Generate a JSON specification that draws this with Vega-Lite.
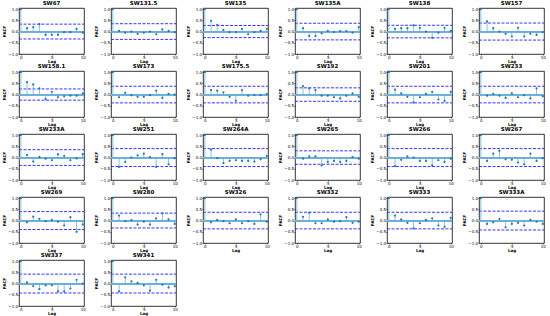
{
  "$schema": "https://vega.github.io/schema/vega-lite/v6.json",
  "padding": {"left": 2, "top": 0, "right": 2, "bottom": 0},
  "background": "white",
  "bounds": "flush",
  "datasets": {
    "pacf": [
      {"s":"SW67","lag":0,"v":1},{"s":"SW67","lag":1,"v":0.15},{"s":"SW67","lag":2,"v":0.2},{"s":"SW67","lag":3,"v":0.33},{"s":"SW67","lag":4,"v":-0.15},{"s":"SW67","lag":5,"v":-0.15},{"s":"SW67","lag":6,"v":-0.15},{"s":"SW67","lag":7,"v":-0.03},{"s":"SW67","lag":8,"v":-0.03},{"s":"SW67","lag":9,"v":0.12},{"s":"SW67","lag":10,"v":-0.05},
      {"s":"SW131.5","lag":0,"v":1},{"s":"SW131.5","lag":1,"v":0.03},{"s":"SW131.5","lag":2,"v":-0.05},{"s":"SW131.5","lag":3,"v":0.0},{"s":"SW131.5","lag":4,"v":-0.1},{"s":"SW131.5","lag":5,"v":-0.05},{"s":"SW131.5","lag":6,"v":0.0},{"s":"SW131.5","lag":7,"v":-0.12},{"s":"SW131.5","lag":8,"v":0.1},{"s":"SW131.5","lag":9,"v":0.03},{"s":"SW131.5","lag":10,"v":-0.03},
      {"s":"SW135","lag":0,"v":1},{"s":"SW135","lag":1,"v":0.48},{"s":"SW135","lag":2,"v":0.3},{"s":"SW135","lag":3,"v":0.07},{"s":"SW135","lag":4,"v":-0.03},{"s":"SW135","lag":5,"v":-0.02},{"s":"SW135","lag":6,"v":0.12},{"s":"SW135","lag":7,"v":-0.12},{"s":"SW135","lag":8,"v":-0.03},{"s":"SW135","lag":9,"v":0.03},{"s":"SW135","lag":10,"v":0.12},
      {"s":"SW135A","lag":0,"v":1},{"s":"SW135A","lag":1,"v":0.15},{"s":"SW135A","lag":2,"v":-0.2},{"s":"SW135A","lag":3,"v":-0.2},{"s":"SW135A","lag":4,"v":-0.08},{"s":"SW135A","lag":5,"v":0.03},{"s":"SW135A","lag":6,"v":-0.02},{"s":"SW135A","lag":7,"v":0.02},{"s":"SW135A","lag":8,"v":0.02},{"s":"SW135A","lag":9,"v":-0.05},{"s":"SW135A","lag":10,"v":0.2},
      {"s":"SW138","lag":0,"v":1},{"s":"SW138","lag":1,"v":0.12},{"s":"SW138","lag":2,"v":0.15},{"s":"SW138","lag":3,"v":0.15},{"s":"SW138","lag":4,"v":0.28},{"s":"SW138","lag":5,"v":0.17},{"s":"SW138","lag":6,"v":0.0},{"s":"SW138","lag":7,"v":-0.28},{"s":"SW138","lag":8,"v":-0.05},{"s":"SW138","lag":9,"v":0.17},{"s":"SW138","lag":10,"v":0.03},
      {"s":"SW157","lag":0,"v":1},{"s":"SW157","lag":1,"v":0.45},{"s":"SW157","lag":2,"v":0.15},{"s":"SW157","lag":3,"v":0.0},{"s":"SW157","lag":4,"v":-0.1},{"s":"SW157","lag":5,"v":-0.22},{"s":"SW157","lag":6,"v":0.17},{"s":"SW157","lag":7,"v":-0.22},{"s":"SW157","lag":8,"v":-0.1},{"s":"SW157","lag":9,"v":-0.15},{"s":"SW157","lag":10,"v":-0.02},
      {"s":"SW158.1","lag":0,"v":1},{"s":"SW158.1","lag":1,"v":0.55},{"s":"SW158.1","lag":2,"v":0.45},{"s":"SW158.1","lag":3,"v":0.28},{"s":"SW158.1","lag":4,"v":-0.2},{"s":"SW158.1","lag":5,"v":0.12},{"s":"SW158.1","lag":6,"v":-0.12},{"s":"SW158.1","lag":7,"v":-0.08},{"s":"SW158.1","lag":8,"v":-0.05},{"s":"SW158.1","lag":9,"v":-0.05},{"s":"SW158.1","lag":10,"v":0.05},
      {"s":"SW173","lag":0,"v":1},{"s":"SW173","lag":1,"v":-0.12},{"s":"SW173","lag":2,"v":0.08},{"s":"SW173","lag":3,"v":-0.03},{"s":"SW173","lag":4,"v":-0.1},{"s":"SW173","lag":5,"v":-0.1},{"s":"SW173","lag":6,"v":-0.03},{"s":"SW173","lag":7,"v":0.18},{"s":"SW173","lag":8,"v":-0.15},{"s":"SW173","lag":9,"v":0.03},{"s":"SW173","lag":10,"v":0.0},
      {"s":"SW175.5","lag":0,"v":1},{"s":"SW175.5","lag":1,"v":0.2},{"s":"SW175.5","lag":2,"v":0.18},{"s":"SW175.5","lag":3,"v":0.1},{"s":"SW175.5","lag":4,"v":-0.1},{"s":"SW175.5","lag":5,"v":-0.28},{"s":"SW175.5","lag":6,"v":0.2},{"s":"SW175.5","lag":7,"v":-0.05},{"s":"SW175.5","lag":8,"v":-0.02},{"s":"SW175.5","lag":9,"v":-0.02},{"s":"SW175.5","lag":10,"v":0.02},
      {"s":"SW192","lag":0,"v":1},{"s":"SW192","lag":1,"v":0.38},{"s":"SW192","lag":2,"v":0.28},{"s":"SW192","lag":3,"v":0.2},{"s":"SW192","lag":4,"v":-0.05},{"s":"SW192","lag":5,"v":-0.05},{"s":"SW192","lag":6,"v":-0.12},{"s":"SW192","lag":7,"v":-0.17},{"s":"SW192","lag":8,"v":-0.05},{"s":"SW192","lag":9,"v":0.05},{"s":"SW192","lag":10,"v":-0.1},
      {"s":"SW201","lag":0,"v":1},{"s":"SW201","lag":1,"v":0.22},{"s":"SW201","lag":2,"v":0.05},{"s":"SW201","lag":3,"v":-0.1},{"s":"SW201","lag":4,"v":-0.35},{"s":"SW201","lag":5,"v":-0.12},{"s":"SW201","lag":6,"v":0.03},{"s":"SW201","lag":7,"v":0.12},{"s":"SW201","lag":8,"v":-0.22},{"s":"SW201","lag":9,"v":-0.28},{"s":"SW201","lag":10,"v":0.12},
      {"s":"SW233","lag":0,"v":1},{"s":"SW233","lag":1,"v":-0.05},{"s":"SW233","lag":2,"v":0.03},{"s":"SW233","lag":3,"v":-0.05},{"s":"SW233","lag":4,"v":-0.15},{"s":"SW233","lag":5,"v":0.05},{"s":"SW233","lag":6,"v":-0.12},{"s":"SW233","lag":7,"v":-0.03},{"s":"SW233","lag":8,"v":-0.17},{"s":"SW233","lag":9,"v":0.28},{"s":"SW233","lag":10,"v":-0.08},
      {"s":"SW233A","lag":0,"v":1},{"s":"SW233A","lag":1,"v":0.12},{"s":"SW233A","lag":2,"v":-0.18},{"s":"SW233A","lag":3,"v":0.03},{"s":"SW233A","lag":4,"v":-0.05},{"s":"SW233A","lag":5,"v":-0.12},{"s":"SW233A","lag":6,"v":0.15},{"s":"SW233A","lag":7,"v":0.08},{"s":"SW233A","lag":8,"v":-0.12},{"s":"SW233A","lag":9,"v":-0.04},{"s":"SW233A","lag":10,"v":0.15},
      {"s":"SW251","lag":0,"v":1},{"s":"SW251","lag":1,"v":-0.42},{"s":"SW251","lag":2,"v":-0.2},{"s":"SW251","lag":3,"v":0.0},{"s":"SW251","lag":4,"v":0.1},{"s":"SW251","lag":5,"v":0.18},{"s":"SW251","lag":6,"v":0.02},{"s":"SW251","lag":7,"v":-0.42},{"s":"SW251","lag":8,"v":0.15},{"s":"SW251","lag":9,"v":-0.3},{"s":"SW251","lag":10,"v":-0.03},
      {"s":"SW264A","lag":0,"v":1},{"s":"SW264A","lag":1,"v":0.35},{"s":"SW264A","lag":2,"v":-0.03},{"s":"SW264A","lag":3,"v":-0.25},{"s":"SW264A","lag":4,"v":-0.15},{"s":"SW264A","lag":5,"v":-0.12},{"s":"SW264A","lag":6,"v":-0.15},{"s":"SW264A","lag":7,"v":-0.15},{"s":"SW264A","lag":8,"v":-0.18},{"s":"SW264A","lag":9,"v":-0.08},{"s":"SW264A","lag":10,"v":0.08},
      {"s":"SW265","lag":0,"v":1},{"s":"SW265","lag":1,"v":-0.05},{"s":"SW265","lag":2,"v":0.05},{"s":"SW265","lag":3,"v":0.05},{"s":"SW265","lag":4,"v":-0.35},{"s":"SW265","lag":5,"v":-0.2},{"s":"SW265","lag":6,"v":-0.15},{"s":"SW265","lag":7,"v":-0.2},{"s":"SW265","lag":8,"v":-0.15},{"s":"SW265","lag":9,"v":0.02},{"s":"SW265","lag":10,"v":-0.05},
      {"s":"SW266","lag":0,"v":1},{"s":"SW266","lag":1,"v":-0.38},{"s":"SW266","lag":2,"v":-0.1},{"s":"SW266","lag":3,"v":0.05},{"s":"SW266","lag":4,"v":0.0},{"s":"SW266","lag":5,"v":-0.15},{"s":"SW266","lag":6,"v":-0.15},{"s":"SW266","lag":7,"v":-0.35},{"s":"SW266","lag":8,"v":-0.12},{"s":"SW266","lag":9,"v":-0.2},{"s":"SW266","lag":10,"v":-0.05},
      {"s":"SW267","lag":0,"v":1},{"s":"SW267","lag":1,"v":-0.15},{"s":"SW267","lag":2,"v":0.18},{"s":"SW267","lag":3,"v":0.3},{"s":"SW267","lag":4,"v":-0.08},{"s":"SW267","lag":5,"v":-0.1},{"s":"SW267","lag":6,"v":-0.22},{"s":"SW267","lag":7,"v":-0.3},{"s":"SW267","lag":8,"v":0.18},{"s":"SW267","lag":9,"v":-0.15},{"s":"SW267","lag":10,"v":-0.03},
      {"s":"SW269","lag":0,"v":1},{"s":"SW269","lag":1,"v":-0.08},{"s":"SW269","lag":2,"v":0.18},{"s":"SW269","lag":3,"v":0.08},{"s":"SW269","lag":4,"v":-0.03},{"s":"SW269","lag":5,"v":0.03},{"s":"SW269","lag":6,"v":-0.05},{"s":"SW269","lag":7,"v":-0.22},{"s":"SW269","lag":8,"v":0.15},{"s":"SW269","lag":9,"v":-0.5},{"s":"SW269","lag":10,"v":-0.18},
      {"s":"SW280","lag":0,"v":1},{"s":"SW280","lag":1,"v":0.22},{"s":"SW280","lag":2,"v":-0.03},{"s":"SW280","lag":3,"v":0.02},{"s":"SW280","lag":4,"v":-0.18},{"s":"SW280","lag":5,"v":-0.05},{"s":"SW280","lag":6,"v":-0.18},{"s":"SW280","lag":7,"v":0.1},{"s":"SW280","lag":8,"v":0.32},{"s":"SW280","lag":9,"v":0.05},{"s":"SW280","lag":10,"v":-0.15},
      {"s":"SW326","lag":0,"v":1},{"s":"SW326","lag":1,"v":-0.08},{"s":"SW326","lag":2,"v":0.03},{"s":"SW326","lag":3,"v":-0.03},{"s":"SW326","lag":4,"v":-0.12},{"s":"SW326","lag":5,"v":0.05},{"s":"SW326","lag":6,"v":-0.12},{"s":"SW326","lag":7,"v":-0.03},{"s":"SW326","lag":8,"v":-0.15},{"s":"SW326","lag":9,"v":0.28},{"s":"SW326","lag":10,"v":-0.05},
      {"s":"SW332","lag":0,"v":1},{"s":"SW332","lag":1,"v":0.17},{"s":"SW332","lag":2,"v":0.35},{"s":"SW332","lag":3,"v":-0.12},{"s":"SW332","lag":4,"v":-0.12},{"s":"SW332","lag":5,"v":0.05},{"s":"SW332","lag":6,"v":-0.05},{"s":"SW332","lag":7,"v":-0.03},{"s":"SW332","lag":8,"v":0.15},{"s":"SW332","lag":9,"v":-0.1},{"s":"SW332","lag":10,"v":-0.05},
      {"s":"SW333","lag":0,"v":1},{"s":"SW333","lag":1,"v":0.22},{"s":"SW333","lag":2,"v":0.05},{"s":"SW333","lag":3,"v":-0.1},{"s":"SW333","lag":4,"v":-0.35},{"s":"SW333","lag":5,"v":-0.12},{"s":"SW333","lag":6,"v":0.03},{"s":"SW333","lag":7,"v":0.1},{"s":"SW333","lag":8,"v":-0.22},{"s":"SW333","lag":9,"v":-0.28},{"s":"SW333","lag":10,"v":0.12},
      {"s":"SW333A","lag":0,"v":1},{"s":"SW333A","lag":1,"v":-0.15},{"s":"SW333A","lag":2,"v":-0.08},{"s":"SW333A","lag":3,"v":0.08},{"s":"SW333A","lag":4,"v":-0.3},{"s":"SW333A","lag":5,"v":-0.15},{"s":"SW333A","lag":6,"v":-0.1},{"s":"SW333A","lag":7,"v":-0.22},{"s":"SW333A","lag":8,"v":0.03},{"s":"SW333A","lag":9,"v":-0.05},{"s":"SW333A","lag":10,"v":-0.15},
      {"s":"SW337","lag":0,"v":1},{"s":"SW337","lag":1,"v":0.05},{"s":"SW337","lag":2,"v":-0.12},{"s":"SW337","lag":3,"v":-0.25},{"s":"SW337","lag":4,"v":-0.08},{"s":"SW337","lag":5,"v":-0.08},{"s":"SW337","lag":6,"v":-0.35},{"s":"SW337","lag":7,"v":-0.35},{"s":"SW337","lag":8,"v":-0.22},{"s":"SW337","lag":9,"v":0.17},{"s":"SW337","lag":10,"v":0.0},
      {"s":"SW341","lag":0,"v":1},{"s":"SW341","lag":1,"v":-0.35},{"s":"SW341","lag":2,"v":0.28},{"s":"SW341","lag":3,"v":0.1},{"s":"SW341","lag":4,"v":0.03},{"s":"SW341","lag":5,"v":-0.08},{"s":"SW341","lag":6,"v":-0.32},{"s":"SW341","lag":7,"v":0.17},{"s":"SW341","lag":8,"v":-0.05},{"s":"SW341","lag":9,"v":-0.18},{"s":"SW341","lag":10,"v":-0.12},
      {"s":"SW67","c":0.33},{"s":"SW131.5","c":0.35},{"s":"SW135","c":0.27},{"s":"SW135A","c":0.37},{"s":"SW138","c":0.28},{"s":"SW157","c":0.38},
      {"s":"SW158.1","c":0.25},{"s":"SW173","c":0.37},{"s":"SW175.5","c":0.37},{"s":"SW192","c":0.3},{"s":"SW201","c":0.37},{"s":"SW233","c":0.37},
      {"s":"SW233A","c":0.35},{"s":"SW251","c":0.4},{"s":"SW264A","c":0.4},{"s":"SW265","c":0.3},{"s":"SW266","c":0.4},{"s":"SW267","c":0.4},
      {"s":"SW269","c":0.4},{"s":"SW280","c":0.33},{"s":"SW326","c":0.37},{"s":"SW332","c":0.37},{"s":"SW333","c":0.37},{"s":"SW333A","c":0.42},
      {"s":"SW337","c":0.42},{"s":"SW341","c":0.42}
    ]
  },
  "data": {"name": "pacf"},
  "facet": {
    "field": "s",
    "type": "nominal",
    "sort": ["SW67","SW131.5","SW135","SW135A","SW138","SW157","SW158.1","SW173","SW175.5","SW192","SW201","SW233","SW233A","SW251","SW264A","SW265","SW266","SW267","SW269","SW280","SW326","SW332","SW333","SW333A","SW337","SW341"],
    "header": {"title": null, "labelFontSize": 5.5, "labelFontWeight": "bold", "labelFont": "DejaVu Sans", "labelPadding": 0.5, "labelColor": "black"}
  },
  "columns": 6,
  "spacing": {"row": 17, "column": 27},
  "resolve": {"axis": {"x": "independent", "y": "independent"}},
  "spec": {
    "width": 65,
    "height": 46,
    "encoding": {
      "x": {"field": "lag", "type": "quantitative", "scale": {"domain": [-0.3, 10.2], "nice": false, "zero": false},
            "axis": {"title": "Lag", "values": [0, 5, 10], "format": "d", "grid": false, "domain": false, "tickColor": "black", "tickSize": 1, "labelFontSize": 4, "labelPadding": 0, "titleFontSize": 4, "titleFontWeight": "bold", "titlePadding": 0, "labelFont": "DejaVu Sans", "titleFont": "DejaVu Sans", "labelColor": "black", "titleColor": "black"}},
      "y": {"field": "v", "type": "quantitative", "scale": {"domain": [-1.0, 1.05], "nice": false},
            "axis": {"title": "PACF", "values": [-1, -0.5, 0, 0.5, 1], "format": ".1f", "grid": false, "domain": false, "tickColor": "black", "tickSize": 1, "labelFontSize": 4, "labelPadding": 0.5, "titleFontSize": 4, "titleFontWeight": "bold", "titlePadding": 1, "labelFont": "DejaVu Sans", "titleFont": "DejaVu Sans", "labelColor": "black", "titleColor": "black"}}
    },
    "layer": [
      {"mark": {"type": "rule", "color": "#6baed6", "strokeWidth": 1.2}, "encoding": {"x": {"value": 0}, "x2": {"value": 65}, "y": {"datum": 0}}},
      {"transform": [{"filter": "datum.c != null"}], "mark": {"type": "rule", "color": "#1f1fff", "strokeDash": [3, 1.5], "strokeWidth": 0.9},
       "encoding": {"x": {"value": 0}, "x2": {"value": 65}, "y": {"field": "c", "type": "quantitative"}}},
      {"transform": [{"filter": "datum.c != null"}, {"calculate": "-datum.c", "as": "nc"}], "mark": {"type": "rule", "color": "#1f1fff", "strokeDash": [3, 1.5], "strokeWidth": 0.9},
       "encoding": {"x": {"value": 0}, "x2": {"value": 65}, "y": {"field": "nc", "type": "quantitative"}}},
      {"transform": [{"filter": "datum.lag != null"}], "mark": {"type": "rule", "color": "#6baed6", "strokeWidth": 0.8},
       "encoding": {"y2": {"datum": 0}}},
      {"transform": [{"filter": "datum.lag != null"}], "mark": {"type": "circle", "color": "#1f77b4", "size": 5, "opacity": 1}}
    ]
  },
  "config": {
    "view": {"stroke": "black", "strokeWidth": 0.8},
    "axis": {"tickWidth": 0.6}
  }
}
